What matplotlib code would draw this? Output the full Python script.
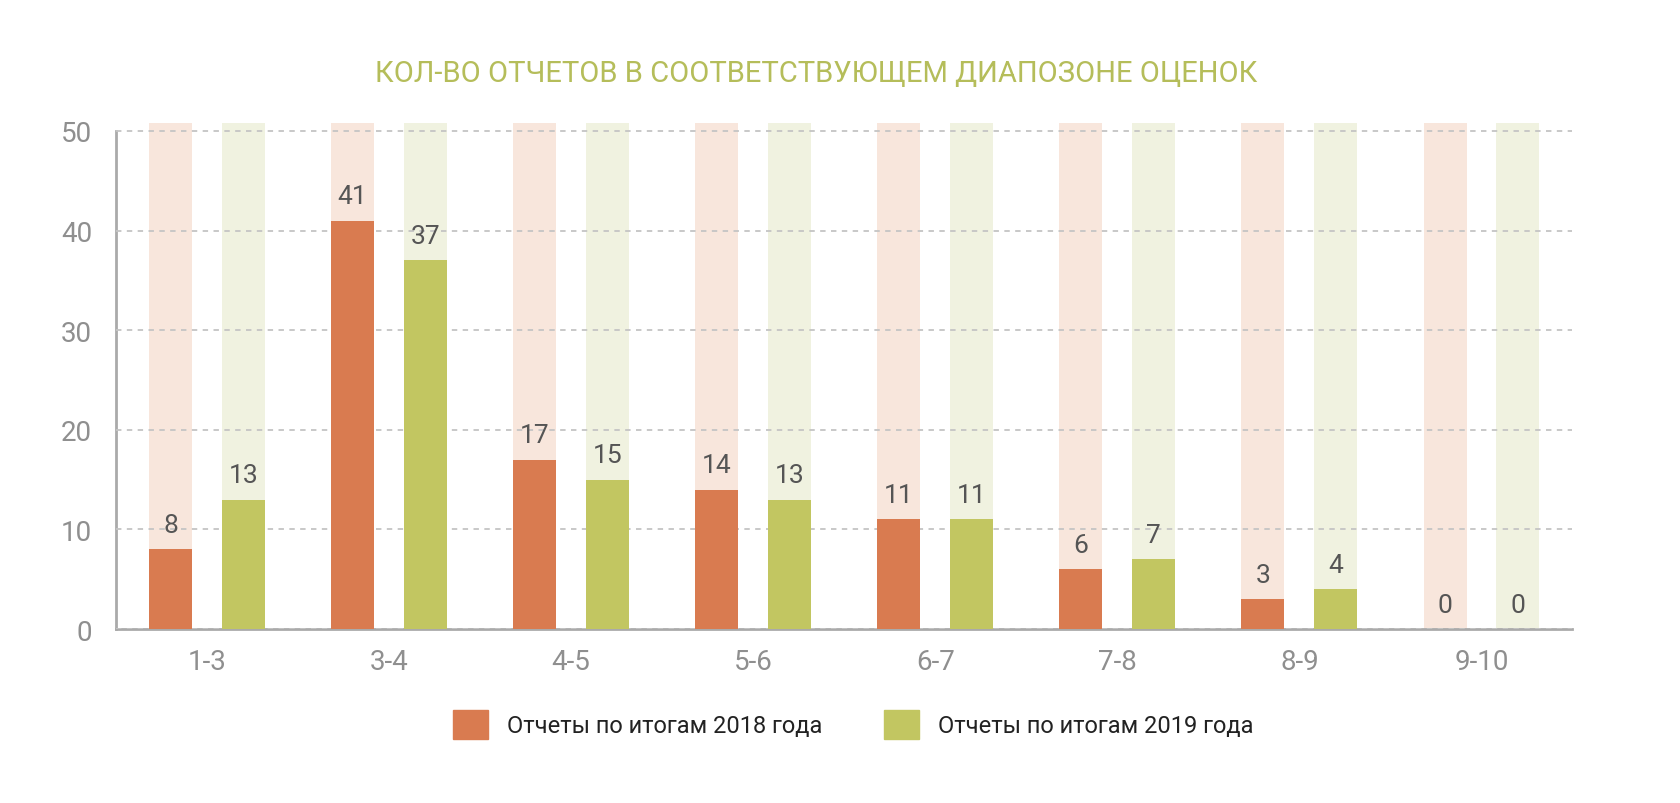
import numpy as np
import matplotlib
matplotlib.use("Agg")
import matplotlib.pyplot as plt
from matplotlib.patches import Patch

plt.rcParams['font.family'] = ['Roboto', 'DejaVu Sans']

ranges = ["1-3", "3-4", "4-5", "5-6", "6-7", "7-8", "8-9", "9-10"]
reports2018 = [8, 41, 17, 14, 11, 6, 3, 0]
reports2019 = [13, 37, 15, 13, 11, 7, 4, 0]
labels = ["Отчеты по итогам 2018 года", "Отчеты по итогам 2019 года"]
title = "КОЛ-ВО ОТЧЕТОВ В СООТВЕТСТВУЮЩЕМ ДИАПОЗОНЕ ОЦЕНОК"

orange = "#d97b50"
green = "#c2c661"
orange_bg = "#f8e6dc"
green_bg = "#f0f2e0"
top = 50.8

fig = plt.figure(figsize=(16.8, 8.04), dpi=100)
ax = fig.add_axes([0.069, 0.2164, 0.867, 0.6294])

x = np.arange(len(ranges))
w = 0.236
off = 0.2

# light full-height bars behind the real values
ax.bar(x - off, [top] * len(x), w, color=orange_bg, zorder=1)
ax.bar(x + off, [top] * len(x), w, color=green_bg, zorder=1)
ax.bar(x - off, reports2018, w, color=orange, zorder=3)
ax.bar(x + off, reports2019, w, color=green, zorder=3)

for xi, v in zip(x - off, reports2018):
    ax.annotate(str(v), (xi, v), xytext=(0, 9), textcoords="offset points",
                ha="center", va="bottom", fontsize=19, color="#555555", zorder=4)
for xi, v in zip(x + off, reports2019):
    ax.annotate(str(v), (xi, v), xytext=(0, 9), textcoords="offset points",
                ha="center", va="bottom", fontsize=19, color="#555555", zorder=4)

ax.set_xlim(-0.5, 7.5)
ax.set_ylim(0, top)
ax.set_yticks([0, 10, 20, 30, 40, 50])
ax.yaxis.grid(True, linestyle=(0, (3, 3)), color="#c4c4c4", linewidth=1.3, zorder=2)
ax.set_axisbelow(False)
ax.set_xticks(x)
ax.set_xticklabels(ranges)
ax.tick_params(axis="both", length=0, labelsize=20, labelcolor="#8f8f8f")
ax.tick_params(axis="x", pad=14)
ax.tick_params(axis="y", pad=17)

for s in ["top", "right"]:
    ax.spines[s].set_visible(False)
for s in ["left", "bottom"]:
    ax.spines[s].set_color("#aaaaaa")
    ax.spines[s].set_linewidth(2)
ax.spines["left"].set_bounds(0, 50)

fig.text(0.486, 0.908, title, ha="center", va="center", fontsize=21, color="#b5bd5a")

handles = [Patch(color=orange), Patch(color=green)]
fig.legend(handles, labels, loc="center", bbox_to_anchor=(0.508, 0.098), ncol=2,
           frameon=False, fontsize=17, handlelength=1.5, handleheight=1.5,
           columnspacing=2.6, handletextpad=0.8, labelcolor="#222222")

fig.savefig("out.png", dpi=100, facecolor="white")
